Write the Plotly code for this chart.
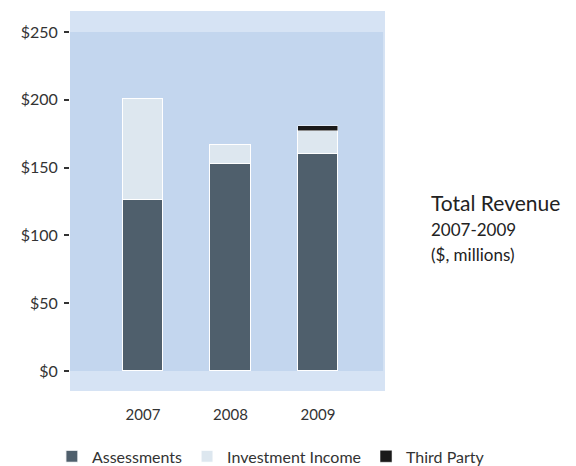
import plotly.graph_objects as go

years = ["2007", "2008", "2009"]
assessments = [126, 152.5, 160]
investment_income = [74.5, 14, 17]
third_party = [0, 0, 4]
y_ticks = [0, 50, 100, 150, 200, 250]
y_tick_labels = ["$0", "$50", "$100", "$150", "$200", "$250"]

FONT = "Lato, 'Open Sans', sans-serif"

fig = go.Figure()
fig.add_bar(x=years, y=assessments, name="Assessments",
            marker=dict(color="#4f5f6c", line=dict(color="white", width=1)), width=0.46)
fig.add_bar(x=years, y=investment_income, name="Investment Income",
            marker=dict(color="#dde7ef", line=dict(color="white", width=1)), width=0.46)
fig.add_bar(x=years, y=third_party, name="Third Party",
            marker=dict(color="#1a1a1a", line=dict(color="white", width=0.5)), width=0.46)

fig.add_shape(type="rect", xref="paper", yref="y", x0=0, x1=0.994, y0=0, y1=250,
              fillcolor="#c3d6ee", line=dict(width=0), layer="below")

fig.update_layout(
    barmode="stack",
    width=576, height=466,
    margin=dict(l=70, r=191, t=11, b=75, autoexpand=False),
    paper_bgcolor="white",
    plot_bgcolor="#d6e3f4",
    font=dict(family=FONT, color="#333333"),
    bargap=0,
    legend=dict(orientation="h", x=1.333, xanchor="right", y=-0.172, yanchor="middle",
                font=dict(size=16, color="#333333"), traceorder="normal",
                bgcolor="rgba(0,0,0,0)", itemwidth=30, tracegroupgap=0),
    xaxis=dict(type="category", range=[-0.834, 2.766], showgrid=False, ticks="",
               ticklabelstandoff=13,
               tickfont=dict(size=15, color="#333333"), zeroline=False),
    yaxis=dict(range=[-14.7, 265.5], tickvals=y_ticks, ticktext=y_tick_labels,
               showgrid=False, zeroline=False, ticks="outside", ticklen=5,
               tickwidth=2, tickcolor="#333333", ticklabelstandoff=3,
               tickfont=dict(size=16, color="#333333")),
    annotations=[
        dict(text="Total Revenue", xref="paper", yref="paper", x=1.14, y=0.495,
             xanchor="left", yanchor="middle", showarrow=False,
             font=dict(size=21, color="#222222")),
        dict(text="2007-2009", xref="paper", yref="paper", x=1.14, y=0.426,
             xanchor="left", yanchor="middle", showarrow=False,
             font=dict(size=17, color="#222222")),
        dict(text="($, millions)", xref="paper", yref="paper", x=1.14, y=0.36,
             xanchor="left", yanchor="middle", showarrow=False,
             font=dict(size=17, color="#222222")),
    ],
)

fig.write_html("out.html")
